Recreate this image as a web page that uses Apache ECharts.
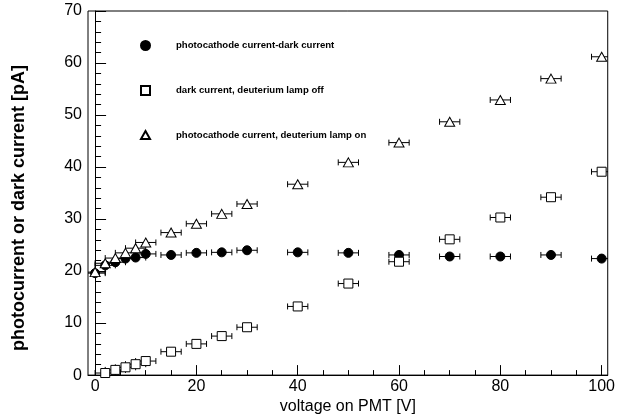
<!DOCTYPE html>
<html>
<head>
<meta charset="utf-8">
<script src="https://cdn.jsdelivr.net/npm/echarts@6/dist/echarts.min.js"></script>
<style>html,body{margin:0;padding:0;background:#fff}#c{width:618px;height:420px}</style>
</head>
<body>
<div id="c"></div>
<script>
const voltages = [0, 2, 4, 6, 8, 10, 15, 20, 25, 30, 40, 50, 60, 70, 80, 90, 100];
const diffCurrent = [19.6, 21.1, 21.7, 22.4, 22.6, 23.3, 23.1, 23.5, 23.6, 24.0, 23.6, 23.5, 23.1, 22.8, 22.8, 23.1, 22.4];
const darkCurrent = [null, 0.4, 1.0, 1.5, 2.1, 2.7, 4.5, 6.0, 7.5, 9.2, 13.2, 17.6, 21.8, 26.1, 30.3, 34.2, 39.1];
const lampOnCurrent = [19.8, 21.5, 22.5, 23.5, 24.4, 25.5, 27.4, 29.1, 31.0, 32.9, 36.7, 40.9, 44.7, 48.7, 52.9, 57.0, 61.2];
const voltageErr = [2, 2, 2, 2, 2, 2, 2, 2, 2, 2, 2, 2, 2, 2, 2, 2, 2];
const xLabels = [0, 20, 40, 60, 80, 100];
const xMinor = [5, 10, 15, 25, 30, 35, 45, 50, 55, 65, 70, 75, 85, 90, 95];
const seriesNames = ['photocathode current-dark current', 'dark current, deuterium lamp off', 'photocathode current, deuterium lamp on'];

const FONT = '"Liberation Sans", Arial, sans-serif';

function pts(ys) {
  const out = [];
  voltages.forEach((v, i) => { if (ys[i] != null) out.push([v, ys[i], voltageErr[i]]); });
  return out;
}

function errBar(ys, name) {
  return {
    type: 'custom', name: name + '_err', clip: true, z: 1, silent: true,
    data: pts(ys),
    renderItem: function (params, api) {
      const x = api.value(0), y = api.value(1), e = api.value(2);
      const a = api.coord([x - e, y]), b = api.coord([x + e, y]);
      const st = { stroke: '#000', lineWidth: 1 };
      return { type: 'group', children: [
        { type: 'line', shape: { x1: a[0], y1: a[1], x2: b[0], y2: b[1] }, style: st },
        { type: 'line', shape: { x1: a[0], y1: a[1] - 3, x2: a[0], y2: a[1] + 3 }, style: st },
        { type: 'line', shape: { x1: b[0], y1: b[1] - 3, x2: b[0], y2: b[1] + 3 }, style: st }
      ]};
    }
  };
}

const triPath = 'path://M5,0 L10,9 L0,9 Z';

const chart = echarts.init(document.getElementById('c'), null, { renderer: 'canvas' });
chart.setOption({
  animation: false,
  backgroundColor: '#fff',
  textStyle: { fontFamily: FONT },
  grid: { left: 88, right: 9, top: 11, bottom: 38, show: true, borderColor: '#000', borderWidth: 1, backgroundColor: 'transparent' },
  legend: {
    orient: 'vertical', left: 135, top: 35, itemWidth: 9, itemHeight: 9, itemGap: 34,
    data: seriesNames,
    textStyle: { fontFamily: FONT, fontSize: 9.6, fontWeight: 'bold', color: '#000', padding: [0, 0, 0, 21] },
    selectedMode: false
  },
  xAxis: [{
    type: 'value', min: -1.4, max: 101.2,
    name: 'voltage on PMT [V]', nameLocation: 'middle', nameGap: 23,
    nameTextStyle: { fontFamily: FONT, fontSize: 16, color: '#000' },
    axisLine: { show: true, onZero: false, lineStyle: { color: '#000', width: 1 } },
    axisTick: { show: true, inside: true, length: 10, customValues: xLabels, lineStyle: { color: '#000' } },
    axisLabel: { customValues: xLabels, fontFamily: FONT, fontSize: 16, color: '#000', margin: 3 },
    splitLine: { show: false }
  }, {
    type: 'value', min: -1.4, max: 101.2, position: 'bottom',
    axisLine: { show: false },
    axisTick: { show: true, inside: true, length: 5, customValues: xMinor, lineStyle: { color: '#000' } },
    axisLabel: { show: false, customValues: xMinor },
    splitLine: { show: false }
  }],
  yAxis: {
    type: 'value', min: 0, max: 70, interval: 10,
    name: 'photocurrent or dark current [pA]', nameLocation: 'middle', nameGap: 60,
    nameTextStyle: { fontFamily: FONT, fontSize: 18, fontWeight: 'bold', color: '#000', padding: [0, 30, 0, 0] },
    axisLine: { show: true, lineStyle: { color: '#000', width: 1 } },
    axisTick: { show: true, inside: true, length: 11, lineStyle: { color: '#000' } },
    minorTick: { show: true, splitNumber: 5, length: 6, lineStyle: { color: '#000' } },
    axisLabel: { fontFamily: FONT, fontSize: 16, color: '#000', margin: 6 },
    splitLine: { show: false }
  },
  series: [
    errBar(diffCurrent, seriesNames[0]),
    errBar(darkCurrent, seriesNames[1]),
    errBar(lampOnCurrent, seriesNames[2]),
    { type: 'scatter', name: seriesNames[0], symbol: 'circle', symbolSize: 9, z: 3,
      itemStyle: { color: '#000', borderColor: '#000', borderWidth: 1, opacity: 1 },
      data: pts(diffCurrent).map(p => [p[0], p[1]]) },
    { type: 'scatter', name: seriesNames[1], symbol: 'rect', symbolSize: 9, z: 3,
      itemStyle: { color: '#fff', borderColor: '#000', borderWidth: 1, opacity: 1 },
      data: pts(darkCurrent).map(p => [p[0], p[1]]) },
    { type: 'scatter', name: seriesNames[2], symbol: triPath, symbolSize: [10, 9], z: 3,
      itemStyle: { color: '#fff', borderColor: '#000', borderWidth: 1, opacity: 1 },
      data: pts(lampOnCurrent).map(p => [p[0], p[1]]) }
  ]
});
</script>
</body>
</html>
